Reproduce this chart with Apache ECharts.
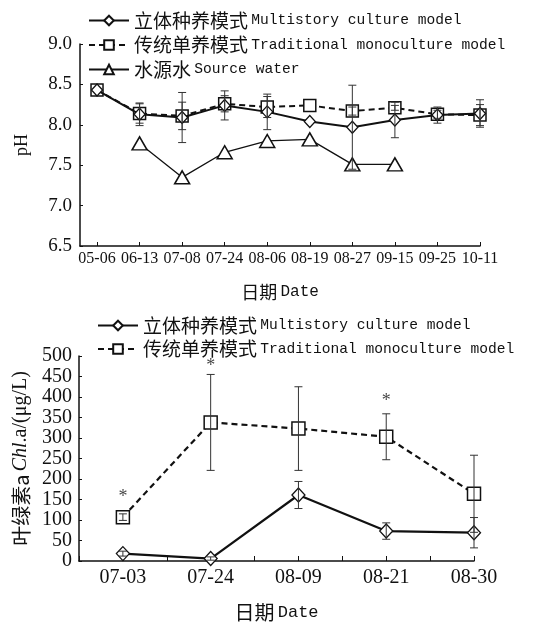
<!DOCTYPE html>
<html>
<head>
<meta charset="utf-8">
<script src="https://cdn.jsdelivr.net/npm/echarts@6/dist/echarts.min.js"></script>
<style>
  html, body { margin: 0; padding: 0; background: #fff; }
  #chart { width: 544px; height: 623px; }
</style>
</head>
<body>
<div id="chart"></div>
<script>
// ---- pH panel ----
const phDates = ['05-06', '06-13', '07-08', '07-24', '08-06', '08-19', '08-27', '09-15', '09-25', '10-11'];
const phMulti = [8.43, 8.13, 8.09, 8.24, 8.16, 8.04, 7.97, 8.06, 8.12, 8.14];
const phMultiSd = [0, 0.14, 0.31, 0.18, 0.22, 0, 0.52, 0.22, 0.10, 0.17];
const phTrad = [8.43, 8.14, 8.11, 8.26, 8.22, 8.24, 8.17, 8.21, 8.13, 8.12];
const phTradSd = [0, 0.12, 0.17, 0.10, 0.13, 0, 0.05, 0.03, 0.05, 0.13];
const phSource = [null, 7.77, 7.35, 7.66, 7.80, 7.82, 7.51, 7.51, null, null];
const phTicks = [6.5, 7.0, 7.5, 8.0, 8.5, 9.0];

// ---- chlorophyll a panel ----
const chlDates = ['07-03', '07-24', '08-09', '08-21', '08-30'];
const chlMulti = [18, 6, 161, 73, 69];
const chlMultiSd = [6, 4, 33, 20, 37];
const chlTrad = [107, 338, 323, 303, 164];
const chlTradSd = [8, 117, 102, 56, 94];
// significance marks: [date index, height of the asterisk]
const chlSig = [[0, 156], [1, 474], [3, 390]];

const legendCn = {
  multi: '立体种养模式', trad: '传统单养模式', source: '水源水'
};
const legendEn = {
  multi: 'Multistory culture model', trad: 'Traditional monoculture model', source: 'Source water'
};

const INK = '#111';
const SERIF = 'Liberation Serif';
const MONO = 'Liberation Mono';
const CJK = 'Noto Sans CJK SC';

function idx(arr) { return arr.map((v, i) => [i, v]); }
function errData(vals, sds) {
  const out = [];
  vals.forEach((v, i) => { if (v != null && sds[i] > 0) out.push([i, v - sds[i], v + sds[i]]); });
  return out;
}

function errorBarSeries(name, xi, yi, data, capHalf) {
  return {
    name: name,
    type: 'custom',
    xAxisIndex: xi, yAxisIndex: yi,
    z: 5,
    silent: true,
    renderItem: function (params, api) {
      const lo = api.coord([api.value(0), api.value(1)]);
      const hi = api.coord([api.value(0), api.value(2)]);
      const st = { stroke: '#333', lineWidth: 1 };
      return {
        type: 'group',
        children: [
          { type: 'line', shape: { x1: lo[0], y1: lo[1], x2: hi[0], y2: hi[1] }, style: st },
          { type: 'line', shape: { x1: hi[0] - capHalf, y1: hi[1], x2: hi[0] + capHalf, y2: hi[1] }, style: st },
          { type: 'line', shape: { x1: lo[0] - capHalf, y1: lo[1], x2: lo[0] + capHalf, y2: lo[1] }, style: st }
        ]
      };
    },
    data: data
  };
}

const legendRich = {
  cn: { fontFamily: CJK, fontSize: 19, color: INK, lineHeight: 21 },
  en: { fontFamily: MONO, fontSize: 14.6, color: INK, lineHeight: 21 }
};
function legendFormatter(name) {
  const key = name.split('_')[0];
  return '{cn|' + legendCn[key] + '} {en|' + legendEn[key] + '}';
}

const chart = echarts.init(document.getElementById('chart'), null, { renderer: 'canvas' });

const option = {
  backgroundColor: '#fff',
  animation: false,
  legend: [
    {
      left: 88, top: 11, orient: 'vertical', itemGap: 5.5, padding: 0,
      itemWidth: 40, itemHeight: 12,
      data: ['multi_ph', 'trad_ph', 'source_ph'],
      formatter: legendFormatter,
      textStyle: { rich: legendRich }
    },
    {
      left: 97, top: 316, orient: 'vertical', itemGap: 4.5, padding: 0,
      itemWidth: 40, itemHeight: 12,
      data: ['multi_chl', 'trad_chl'],
      formatter: legendFormatter,
      textStyle: { rich: legendRich }
    }
  ],
  grid: [
    { left: 80, right: 64, top: 44, bottom: 377 },
    { left: 79, right: 70, top: 356, bottom: 62 }
  ],
  xAxis: [
    {
      gridIndex: 0, type: 'value', min: -0.4, max: phDates.length - 1,
      splitLine: { show: false },
      axisLine: { onZero: false, lineStyle: { color: INK, width: 1.5 } },
      axisTick: { inside: true, length: 4, lineStyle: { color: INK }, customValues: phDates.map((d, i) => i) },
      axisLabel: {
        customValues: phDates.map((d, i) => i),
        formatter: v => phDates[Math.round(v)] || '',
        fontFamily: SERIF, fontSize: 16, color: INK, margin: 5
      },
      name: '{cn|日期} {en|Date}', nameLocation: 'middle', nameGap: 37,
      nameTextStyle: { rich: {
        cn: { fontFamily: CJK, fontSize: 18, color: INK },
        en: { fontFamily: MONO, fontSize: 16, color: INK }
      } }
    },
    {
      gridIndex: 1, type: 'value', min: -0.5, max: chlDates.length - 1, interval: 0.5,
      splitLine: { show: false },
      axisLine: { onZero: false, lineStyle: { color: INK, width: 1.5 } },
      axisTick: { inside: true, length: 5, lineStyle: { color: INK } },
      axisLabel: {
        formatter: v => (Number.isInteger(v) && chlDates[v]) ? chlDates[v] : '',
        fontFamily: SERIF, fontSize: 20, color: INK, margin: 7,
        showMinLabel: true, showMaxLabel: true
      },
      name: '{cn|日期} {en|Date}', nameLocation: 'middle', nameGap: 41,
      nameTextStyle: { rich: {
        cn: { fontFamily: CJK, fontSize: 20, color: INK },
        en: { fontFamily: MONO, fontSize: 17, color: INK }
      } }
    }
  ],
  yAxis: [
    {
      gridIndex: 0, type: 'value', min: phTicks[0], max: phTicks[phTicks.length - 1], interval: 0.5,
      splitLine: { show: false },
      axisLine: { show: true, onZero: false, lineStyle: { color: INK, width: 1.5 } },
      axisTick: { show: true, inside: true, length: 3, lineStyle: { color: INK } },
      axisLabel: { formatter: v => v.toFixed(1), fontFamily: SERIF, fontSize: 19, color: INK, margin: 8 },
      name: 'pH', nameLocation: 'middle', nameGap: 49,
      nameTextStyle: { fontFamily: SERIF, fontSize: 18, color: INK }
    },
    {
      gridIndex: 1, type: 'value', min: 0, max: 500, interval: 50,
      splitLine: { show: false },
      axisLine: { show: true, onZero: false, lineStyle: { color: INK, width: 1.5 } },
      axisTick: { show: true, inside: true, length: 3, lineStyle: { color: INK } },
      axisLabel: { fontFamily: SERIF, fontSize: 20, color: INK, margin: 7 },
      name: '{cn|叶绿素a} {it|Chl}{n|.a/(μg/L)}', nameLocation: 'middle', nameGap: 46,
      nameTextStyle: { rich: {
        cn: { fontFamily: CJK, fontSize: 20, color: INK },
        it: { fontFamily: SERIF, fontStyle: 'italic', fontSize: 20, color: INK },
        n: { fontFamily: SERIF, fontSize: 20, color: INK }
      } }
    }
  ],
  series: [
    // pH panel
    {
      name: 'source_ph', type: 'line', xAxisIndex: 0, yAxisIndex: 0, z: 3,
      data: idx(phSource), connectNulls: false,
      symbol: 'triangle', symbolSize: [15, 13],
      lineStyle: { color: INK, width: 1.3 },
      itemStyle: { color: '#fff', borderColor: INK, borderWidth: 1.5 }
    },
    {
      name: 'trad_ph', type: 'line', xAxisIndex: 0, yAxisIndex: 0, z: 3,
      data: idx(phTrad),
      symbol: 'rect', symbolSize: 12,
      lineStyle: { color: INK, width: 2, type: [6, 4] },
      itemStyle: { color: '#fff', borderColor: INK, borderWidth: 1.5 }
    },
    {
      name: 'multi_ph', type: 'line', xAxisIndex: 0, yAxisIndex: 0, z: 4,
      data: idx(phMulti),
      symbol: 'diamond', symbolSize: [11, 12],
      lineStyle: { color: INK, width: 2 },
      itemStyle: { color: '#fff', borderColor: INK, borderWidth: 1.3 }
    },
    errorBarSeries('err_multi_ph', 0, 0, errData(phMulti, phMultiSd), 4),
    errorBarSeries('err_trad_ph', 0, 0, errData(phTrad, phTradSd), 4),

    // chlorophyll a panel
    {
      name: 'trad_chl', type: 'line', xAxisIndex: 1, yAxisIndex: 1, z: 3,
      data: idx(chlTrad),
      symbol: 'rect', symbolSize: 13,
      lineStyle: { color: INK, width: 2.2, type: [6, 4] },
      itemStyle: { color: '#fff', borderColor: INK, borderWidth: 1.5 }
    },
    {
      name: 'multi_chl', type: 'line', xAxisIndex: 1, yAxisIndex: 1, z: 4,
      data: idx(chlMulti),
      symbol: 'diamond', symbolSize: [13, 14],
      lineStyle: { color: INK, width: 2.2 },
      itemStyle: { color: '#fff', borderColor: INK, borderWidth: 1.3 }
    },
    errorBarSeries('err_trad_chl', 1, 1, errData(chlTrad, chlTradSd), 4),
    errorBarSeries('err_multi_chl', 1, 1, errData(chlMulti, chlMultiSd), 4),
    {
      name: 'sig_chl', type: 'scatter', xAxisIndex: 1, yAxisIndex: 1, z: 6,
      data: chlSig, symbolSize: 1, itemStyle: { color: 'rgba(0,0,0,0)' },
      silent: true,
      label: {
        show: true, position: 'inside', formatter: '*',
        fontFamily: SERIF, fontSize: 18, color: INK
      }
    }
  ]
};

chart.setOption(option);
</script>
</body>
</html>
